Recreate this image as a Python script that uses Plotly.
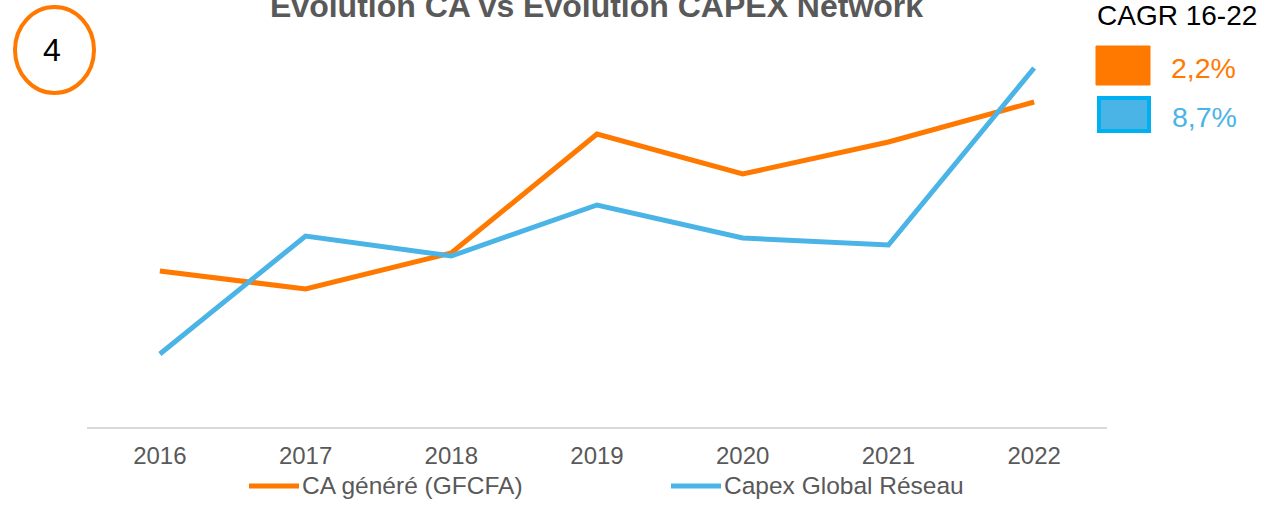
import plotly.graph_objects as go

years = ["2016", "2017", "2018", "2019", "2020", "2021", "2022"]
ca_genere = [156, 138, 174, 293, 253, 285, 325]
capex_reseau = [73, 191, 171, 222, 189, 182, 359]
series_names = ["CA généré (GFCFA)", "Capex Global Réseau"]
cagr_labels = ["2,2%", "8,7%"]

ORANGE = "#FF7900"
BLUE = "#4BB4E6"
GREY = "#595959"
FONT = "Liberation Sans, Arial, sans-serif"

fig = go.Figure()
fig.add_trace(go.Scatter(x=years, y=ca_genere, mode="lines", name=series_names[0],
                         line=dict(color=ORANGE, width=5), showlegend=False))
fig.add_trace(go.Scatter(x=years, y=capex_reseau, mode="lines", name=series_names[1],
                         line=dict(color=BLUE, width=5), showlegend=False))

W, H = 1268, 505
L, R, T, B = 87, 161, 20, 78
pw, ph = W - L - R, H - T - B


def px(x):
    return (x - L) / pw


def py(y):
    return (H - B - y) / ph


shapes = [
    dict(type="circle", xref="paper", yref="paper", x0=px(15), x1=px(94), y0=py(93), y1=py(7),
         line=dict(color=ORANGE, width=4), fillcolor="rgba(0,0,0,0)"),
    dict(type="rect", xref="paper", yref="paper", x0=px(1096), x1=px(1150), y0=py(85), y1=py(46),
         line=dict(color=ORANGE, width=1), fillcolor=ORANGE),
    dict(type="rect", xref="paper", yref="paper", x0=px(1099), x1=px(1149), y0=py(131), y1=py(98),
         line=dict(color="#00B0F0", width=4), fillcolor=BLUE),
    # legend samples
    dict(type="line", xref="paper", yref="paper", x0=px(249), x1=px(299), y0=py(486), y1=py(486),
         line=dict(color=ORANGE, width=5)),
    dict(type="line", xref="paper", yref="paper", x0=px(671), x1=px(721), y0=py(486), y1=py(486),
         line=dict(color=BLUE, width=5)),
]

annotations = [
    dict(text="<b>Evolution CA vs Evolution CAPEX Network</b>", x=px(596), y=py(6.5), xref="paper", yref="paper",
         showarrow=False, xanchor="center", yanchor="middle", font=dict(size=32, color=GREY, family=FONT)),
    dict(text="4", x=px(52), y=py(50), xref="paper", yref="paper", showarrow=False,
         xanchor="center", yanchor="middle", font=dict(size=32, color="black", family=FONT)),
    dict(text="CAGR 16-22", x=px(1177), y=py(15), xref="paper", yref="paper", showarrow=False,
         xanchor="center", yanchor="middle", font=dict(size=28, color="black", family=FONT)),
    dict(text=cagr_labels[0], x=px(1203), y=py(68), xref="paper", yref="paper", showarrow=False,
         xanchor="center", yanchor="middle", font=dict(size=28.5, color=ORANGE, family=FONT)),
    dict(text=cagr_labels[1], x=px(1204), y=py(117), xref="paper", yref="paper", showarrow=False,
         xanchor="center", yanchor="middle", font=dict(size=28.5, color=BLUE, family=FONT)),
    dict(text=series_names[0], x=px(302), y=py(485), xref="paper", yref="paper", showarrow=False,
         xanchor="left", yanchor="middle", xshift=-2, font=dict(size=24.5, color=GREY, family=FONT)),
    dict(text=series_names[1], x=px(724), y=py(485), xref="paper", yref="paper", showarrow=False,
         xanchor="left", yanchor="middle", xshift=-2, font=dict(size=24.5, color=GREY, family=FONT)),
]

fig.update_layout(
    width=W, height=H,
    margin=dict(l=L, r=R, t=T, b=B),
    paper_bgcolor="white", plot_bgcolor="white",
    font=dict(family=FONT, color=GREY),
    shapes=shapes, annotations=annotations,
    showlegend=False,
    xaxis=dict(type="category", range=[-0.5, 6.5], showgrid=False, zeroline=False,
               showline=True, linecolor="#D9D9D9", linewidth=2, ticks="",
               tickfont=dict(size=24, color=GREY, family=FONT), ticklabelstandoff=6),
    yaxis=dict(range=[0, ph], visible=False, showgrid=False, zeroline=False),
)

fig.write_html("out.html", config={"displayModeBar": False},
               post_script="document.body.style.margin='0px';")
